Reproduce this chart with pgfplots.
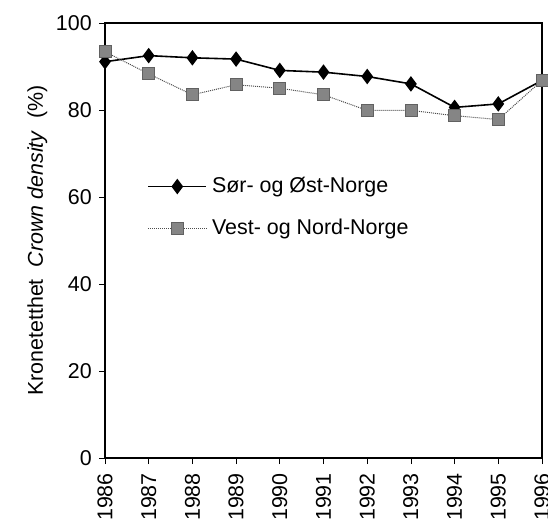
\documentclass[border=0pt]{standalone}
\usepackage{fontspec}
\setmainfont{Liberation Sans}
\usepackage{pgfplots}
\pgfplotsset{compat=1.18}
\begin{document}
\fontsize{21.5}{25}\selectfont
\begin{tikzpicture}
\begin{axis}[name=ax, scale only axis, width=437bp, height=435bp,
  xmin=1986, xmax=1996, ymin=0, ymax=100,
  xtick={1986,...,1996}, ytick={0,20,...,100},
  /pgf/number format/assume math mode=true,
  /pgf/number format/set thousands separator={},
  tick label style={font=\fontsize{21.5}{25}\selectfont},
  x tick label style={rotate=90, anchor=east, inner xsep=9bp},
  tick pos=left, tick align=outside, major tick length=6bp,
  tick style={black, line width=0.6pt},
  axis line style={black, line width=1.5pt},
  ylabel={Kronetetthet\ \ \textit{Crown density}\ \ (\%)},
  ylabel style={font=\fontsize{21.5}{25}\selectfont},
  ylabel shift=-6bp,
  clip=false,
  legend style={at={(rel axis cs:0.09,0.655)}, anchor=north west, draw=none, fill=none,
    font=\fontsize{21.5}{25}\selectfont, row sep=19bp, cells={anchor=west}},
  legend image code/.code={\draw[mark repeat=2,mark phase=2] plot coordinates {(0bp,0bp) (29bp,0bp) (58bp,0bp)};},
  legend style={nodes={inner xsep=5bp}},
]
\addplot[black, line width=1.6pt, mark=diamond*, mark size=6.5bp, mark options={solid}] coordinates {
(1986,91.1) (1987,92.5) (1988,92.0) (1989,91.7) (1990,89.1) (1991,88.7)
(1992,87.7) (1993,86.0) (1994,80.6) (1995,81.4) (1996,86.8)};
\addlegendentry{Sør- og Øst-Norge}
\addplot[gray!60!black, densely dotted, line width=1pt, mark=square*, mark size=6bp,
  mark options={solid, fill=black!48, draw=black!62, line width=0.8pt}] coordinates {
(1986,93.4) (1987,88.3) (1988,83.5) (1989,85.8) (1990,85.0) (1991,83.5)
(1992,79.9) (1993,79.9) (1994,78.7) (1995,77.8) (1996,86.8)};
\addlegendentry{Vest- og Nord-Norge}
\end{axis}
\pgfresetboundingbox
\useasboundingbox ([shift={(-105bp,-62bp)}]ax.south west) rectangle ([shift={(6bp,23bp)}]ax.north east);
\end{tikzpicture}
\end{document}
